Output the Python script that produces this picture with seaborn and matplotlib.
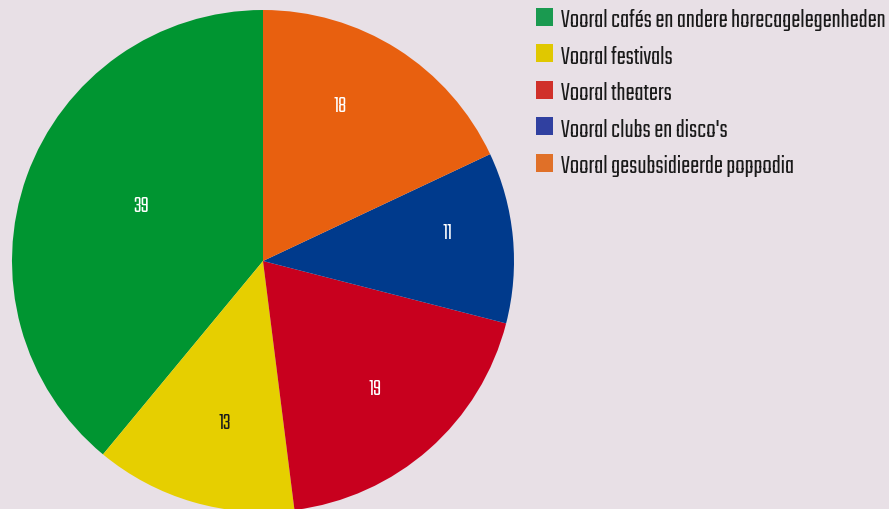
import numpy as np
import matplotlib
matplotlib.use("Agg")
import matplotlib.pyplot as plt
from matplotlib.patches import Patch
from matplotlib.textpath import TextPath
from matplotlib.font_manager import FontProperties
from matplotlib import font_manager
import seaborn as sns

categories = [
    "Vooral cafés en andere horecagelegenheden",
    "Vooral festivals",
    "Vooral theaters",
    "Vooral clubs en disco's",
    "Vooral gesubsidieerde poppodia",
]
values = [39, 13, 19, 11, 18]

slice_colors = ["#009531", "#e6cf00", "#c8001e", "#003a8c", "#e8600f"]
legend_colors = ["#1a9a50", "#e0c800", "#d0302a", "#3040a0", "#e07028"]
value_colors = ["white", "#1a1a1a", "white", "white", "white"]
# where each value label sits: fraction of the radius, and fraction along the wedge's sweep
label_radius = [0.537, 0.655, 0.671, 0.743, 0.698]
label_sweep = [0.463, 0.558, 0.502, 0.597, 0.594]
bg = "#e8e0e6"
WEIGHT = "semibold"

sns.set_style("white")

# pick the condensed sans whose proportions best fit a 17 px cap height
# with the longest legend entry spanning ~323 px
candidates = ["Oswald", "Pathway Gothic One", "Fjalla One", "Antonio", "Saira Condensed",
              "Saira Extra Condensed", "Sofia Sans Condensed", "Sofia Sans Extra Condensed",
              "Sofia Sans Semi Condensed", "Barlow Condensed", "Roboto Condensed",
              "Archivo Narrow", "PT Sans Narrow", "Open Sans Condensed", "Encode Sans Condensed",
              "IBM Plex Sans Condensed", "Asap Condensed", "Fira Sans Condensed",
              "Fira Sans Extra Condensed", "Yanone Kaffeesatz", "Mohave", "Teko",
              "League Gothic", "Barlow Semi Condensed", "Encode Sans Compressed"]
installed = {f.name for f in font_manager.fontManager.ttflist}
CAP, TARGET_W = 17.0, 323.0
best, best_err, best_px = "DejaVu Sans", None, 12.0
for name in candidates:
    if name not in installed:
        continue
    fp = FontProperties(family=name, weight=WEIGHT)
    if font_manager.findfont(fp, fallback_to_default=False).lower().find(
            name.split()[0].lower()) < 0:
        continue
    cap = TextPath((0, 0), "H", size=1, prop=fp).get_extents().height
    wid = TextPath((0, 0), categories[0], size=1, prop=fp).get_extents().width
    size_px = CAP / cap
    w = wid * size_px
    if w > 330:
        size_px *= 330 / w
        w = 330
    err = abs(w - TARGET_W) + abs(size_px * cap - CAP) * 10
    if best_err is None or err < best_err:
        best, best_err, best_px = name, err, size_px
narrow = best
plt.rcParams["font.family"] = [narrow, "DejaVu Sans"]
legend_size = best_px * 72 / 100

# value labels: digits ~14.7 px tall
digit_h = TextPath((0, 0), "18", size=1,
                   prop=FontProperties(family=narrow, weight=WEIGHT)).get_extents().height
value_size = (14.7 / digit_h) * 72 / 100

W, H = 889, 510
fig = plt.figure(figsize=(W / 100, H / 100), dpi=100, facecolor=bg)

cx, cy, r = 263, 262, 251
ax = fig.add_axes([(cx - r) / W, (H - cy - r) / H, 2 * r / W, 2 * r / H])
ax.set_facecolor(bg)

wedges, _, autotexts = ax.pie(
    values,
    colors=sns.color_palette(slice_colors),
    startangle=90,
    counterclock=True,
    autopct=lambda p: f"{p:.0f}",
    pctdistance=0.67,
    wedgeprops=dict(linewidth=0),
    textprops=dict(fontsize=value_size, fontweight=WEIGHT),
)
for w, t, rr, sw, tc in zip(wedges, autotexts, label_radius, label_sweep, value_colors):
    ang = np.deg2rad(w.theta1 + sw * (w.theta2 - w.theta1))
    t.set_position((rr * np.cos(ang), rr * np.sin(ang)))
    t.set_color(tc)

ax.set_xlim(-1, 1)
ax.set_ylim(-1, 1)
ax.set_aspect("equal")
ax.axis("off")

renderer = fig.canvas.get_renderer()
probe = fig.text(0, 0, categories[0], fontsize=legend_size, fontweight=WEIGHT)
row_h = probe.get_window_extent(renderer).height
probe.remove()

fs_px = legend_size * 100 / 72
handles = [Patch(facecolor=c, edgecolor="none") for c in legend_colors]
fig.legend(
    handles, categories,
    loc="upper left",
    bbox_to_anchor=(536 / W, 1 - 9 / H),
    frameon=False,
    prop=FontProperties(family=[narrow, "DejaVu Sans"], size=legend_size, weight=WEIGHT),
    handlelength=17 / fs_px,
    handleheight=17 / fs_px,
    handletextpad=8 / fs_px,
    labelspacing=max(0.05, (36 - row_h) / fs_px),
    labelcolor="#1a1a1a",
    borderaxespad=0,
    borderpad=0,
)

fig.savefig("out.png", dpi=100, facecolor=bg)
